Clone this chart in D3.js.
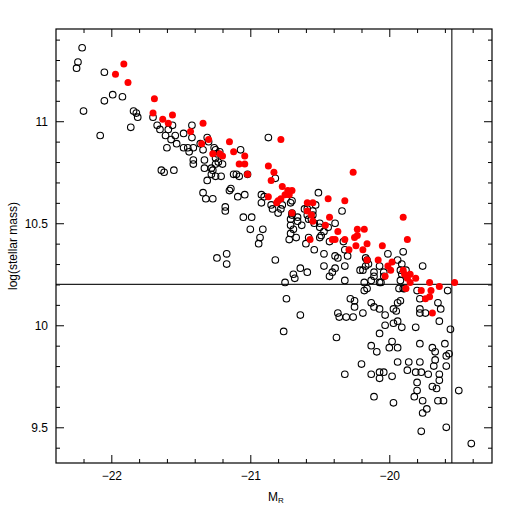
<!DOCTYPE html>
<html>
<head>
<meta charset="utf-8">
<script src="https://cdn.jsdelivr.net/npm/d3@7"></script>
<style>
  body { margin: 0; background: #fff; }
  svg text { font-family: "Liberation Sans", Arial, sans-serif; fill: #000; }
  .axis path.domain { display: none; }
  .axis line { stroke: #000; stroke-width: 1; }
  .axis text { font-size: 12px; }
</style>
</head>
<body>
<div id="chart"></div>
<script>
// open circles: [M_R, log(stellar mass)]
const openGalaxies = [
  [-22.21, 11.36], [-22.24, 11.29], [-22.25, 11.26], [-22.05, 11.24], [-21.99, 11.13],
  [-21.92, 11.12], [-22.05, 11.10], [-22.20, 11.05], [-21.84, 11.05], [-21.82, 11.04],
  [-21.81, 11.02], [-21.70, 11.02], [-21.67, 10.98], [-21.86, 10.97], [-22.08, 10.93],
  [-21.65, 10.96], [-21.56, 10.98], [-21.59, 10.96], [-21.61, 10.93], [-21.54, 10.93],
  [-21.57, 10.91], [-21.48, 10.94], [-21.42, 10.98], [-21.42, 10.92], [-21.53, 10.89],
  [-21.60, 10.87], [-21.48, 10.87], [-21.45, 10.87], [-21.41, 10.87], [-21.44, 10.85],
  [-21.36, 10.89], [-21.34, 10.86], [-21.41, 10.81], [-21.41, 10.79], [-21.33, 10.81],
  [-21.31, 10.92], [-21.30, 10.90], [-21.26, 10.87], [-21.25, 10.86], [-21.24, 10.84],
  [-21.22, 10.85], [-21.25, 10.82], [-21.25, 10.79], [-21.20, 10.79], [-21.23, 10.80],
  [-21.33, 10.77], [-21.28, 10.77], [-21.27, 10.76], [-21.28, 10.74], [-21.25, 10.73],
  [-21.21, 10.73], [-21.31, 10.71], [-21.12, 10.74], [-21.10, 10.74], [-21.08, 10.73],
  [-21.02, 10.74], [-20.87, 10.92], [-21.64, 10.76], [-21.62, 10.75], [-21.55, 10.76],
  [-21.34, 10.65], [-21.32, 10.62], [-21.27, 10.62], [-21.15, 10.66], [-21.14, 10.67],
  [-21.09, 10.63], [-21.04, 10.64], [-21.18, 10.58], [-21.18, 10.56], [-21.05, 10.53],
  [-20.99, 10.53], [-21.00, 10.47], [-20.91, 10.47], [-20.93, 10.43], [-20.94, 10.40],
  [-20.92, 10.64], [-20.90, 10.63], [-20.92, 10.60], [-20.85, 10.59], [-20.84, 10.57],
  [-20.80, 10.55], [-20.78, 10.57], [-20.77, 10.59], [-20.71, 10.45], [-20.67, 10.43],
  [-20.72, 10.42], [-20.82, 10.72], [-21.24, 10.33], [-21.17, 10.35], [-21.17, 10.30],
  [-20.82, 10.32], [-20.75, 10.21], [-20.74, 10.13], [-20.64, 10.05], [-20.69, 10.25],
  [-20.68, 10.23], [-20.64, 10.28], [-20.59, 10.26], [-20.47, 10.29], [-20.43, 10.24],
  [-20.54, 10.37], [-20.47, 10.35], [-20.60, 10.40], [-20.71, 10.49], [-20.69, 10.47],
  [-20.63, 10.49], [-20.66, 10.53], [-20.66, 10.51], [-20.59, 10.54], [-20.58, 10.52],
  [-20.58, 10.43], [-20.50, 10.43], [-20.49, 10.44], [-20.50, 10.50], [-20.54, 10.50],
  [-20.50, 10.48], [-20.47, 10.46], [-20.44, 10.48], [-20.70, 10.55], [-20.70, 10.54],
  [-20.70, 10.61], [-20.71, 10.60], [-20.53, 10.59], [-20.61, 10.57], [-20.59, 10.57],
  [-20.55, 10.56], [-20.55, 10.54], [-20.56, 10.52], [-20.71, 10.52], [-20.41, 10.26],
  [-20.32, 10.22], [-20.37, 10.06], [-20.36, 10.04], [-20.31, 10.04], [-20.26, 10.04],
  [-20.76, 9.97], [-20.38, 9.94], [-20.32, 9.76], [-20.28, 10.13], [-20.25, 10.12],
  [-20.25, 10.09], [-21.07, 10.86], [-20.51, 10.65], [-20.39, 10.50], [-20.34, 10.56],
  [-20.43, 10.41], [-20.39, 10.34], [-20.37, 10.33], [-20.30, 10.34], [-20.32, 10.37],
  [-20.39, 10.28], [-20.32, 10.29], [-20.33, 10.41], [-20.21, 10.27], [-20.19, 10.27],
  [-20.17, 10.33], [-20.16, 10.32], [-20.15, 10.30], [-20.17, 10.29], [-20.11, 10.26],
  [-20.11, 10.24], [-20.13, 10.22], [-20.18, 10.21], [-20.18, 10.17], [-20.16, 10.18],
  [-20.07, 10.29], [-20.07, 10.21], [-20.06, 10.21], [-20.04, 10.26], [-20.04, 10.24],
  [-20.01, 10.35], [-19.94, 10.32], [-19.91, 10.30], [-19.92, 10.27], [-19.91, 10.25],
  [-19.92, 10.22], [-19.90, 10.18], [-19.93, 10.18], [-19.90, 10.36], [-19.88, 10.27],
  [-19.89, 10.18], [-19.76, 10.29], [-19.80, 10.17], [-19.78, 10.13], [-19.58, 10.17],
  [-20.19, 10.06], [-20.13, 10.11], [-20.11, 10.09], [-20.07, 10.08], [-20.03, 10.05],
  [-19.97, 10.08], [-19.95, 10.07], [-19.94, 10.11], [-19.92, 10.12], [-19.78, 10.08],
  [-19.78, 10.06], [-19.74, 10.06], [-19.65, 10.11], [-19.63, 10.08], [-19.64, 10.02],
  [-20.07, 9.96], [-20.03, 10.00], [-19.97, 10.01], [-19.94, 10.02], [-19.91, 9.99],
  [-19.98, 9.92], [-20.00, 9.89], [-19.94, 9.89], [-19.81, 9.99], [-19.78, 9.91],
  [-19.69, 9.89], [-19.60, 9.91], [-19.56, 9.98], [-20.13, 9.90], [-20.09, 9.87],
  [-19.67, 9.87], [-19.57, 9.86], [-19.59, 9.85], [-19.67, 9.83], [-19.68, 9.80],
  [-19.59, 9.80], [-20.20, 9.81], [-20.13, 9.76], [-20.07, 9.77], [-20.04, 9.77],
  [-20.07, 9.74], [-19.98, 9.75], [-19.94, 9.82], [-19.86, 9.82], [-19.78, 9.82],
  [-19.87, 9.78], [-19.81, 9.77], [-19.77, 9.77], [-19.72, 9.76], [-19.64, 9.76],
  [-19.64, 9.73], [-19.80, 9.72], [-19.69, 9.70], [-19.66, 9.69], [-20.11, 9.65],
  [-19.97, 9.62], [-19.82, 9.65], [-19.80, 9.68], [-19.65, 9.63], [-19.61, 9.63],
  [-19.76, 9.63], [-19.73, 9.59], [-19.76, 9.57], [-19.59, 9.50], [-19.77, 9.48],
  [-19.50, 9.68], [-19.41, 9.42]
];

// filled red circles
const redGalaxies = [
  [-21.91, 11.28], [-21.97, 11.23], [-21.88, 11.19], [-21.69, 11.11], [-21.70, 11.04],
  [-21.63, 11.01], [-21.59, 10.99], [-21.56, 11.03], [-21.43, 10.95], [-21.34, 10.99],
  [-21.35, 10.89], [-21.30, 10.91], [-21.27, 10.84], [-21.22, 10.84], [-21.20, 10.83],
  [-21.15, 10.90], [-21.12, 10.85], [-21.04, 10.83], [-21.08, 10.79], [-21.04, 10.79],
  [-21.02, 10.74], [-20.87, 10.78], [-20.83, 10.75], [-20.85, 10.71], [-20.78, 10.91],
  [-20.77, 10.68], [-20.73, 10.66], [-20.70, 10.66], [-20.72, 10.64], [-20.75, 10.64],
  [-20.87, 10.63], [-20.80, 10.61], [-20.78, 10.62], [-20.81, 10.60], [-20.70, 10.55],
  [-20.26, 10.75], [-20.59, 10.60], [-20.55, 10.60], [-20.44, 10.62], [-20.32, 10.61],
  [-20.59, 10.56], [-20.56, 10.54], [-20.55, 10.51], [-20.43, 10.53], [-20.46, 10.49],
  [-20.37, 10.46], [-20.41, 10.42], [-20.39, 10.42], [-20.32, 10.42], [-20.23, 10.47],
  [-20.18, 10.47], [-20.25, 10.43], [-20.23, 10.44], [-20.24, 10.39], [-20.29, 10.37],
  [-20.16, 10.40], [-20.19, 10.37], [-20.16, 10.32], [-20.57, 10.42], [-19.90, 10.53],
  [-19.87, 10.42], [-20.05, 10.39], [-20.08, 10.32], [-20.01, 10.29], [-19.98, 10.31],
  [-19.99, 10.27], [-20.03, 10.24], [-19.90, 10.27], [-19.89, 10.25], [-19.87, 10.23],
  [-19.85, 10.21], [-19.85, 10.25], [-19.81, 10.23], [-19.88, 10.18], [-19.77, 10.17],
  [-19.70, 10.17], [-19.71, 10.21], [-19.74, 10.13], [-19.71, 10.14], [-19.69, 10.06],
  [-19.64, 10.19], [-19.53, 10.21]
];

const xDomain = [-22.398, -19.261];
const yDomain = [9.325, 11.452];
const xMajor = [-22, -21, -20];
const xMinor = [-22.2, -21.8, -21.6, -21.4, -21.2, -20.8, -20.6, -20.4, -20.2, -19.8, -19.6, -19.4];
const yMajor = [9.5, 10, 10.5, 11];
const yMinor = [9.4, 9.6, 9.7, 9.8, 9.9, 10.1, 10.2, 10.3, 10.4, 10.6, 10.7, 10.8, 10.9, 11.1, 11.2, 11.3, 11.4];
const massCut = 10.2;
const magCut = -19.55;

const width = 519;
const height = 519;
const margin = { top: 29, right: 27, bottom: 56, left: 56 };

function drawChart() {
  const area = {
    left: margin.left,
    right: width - margin.right,
    top: margin.top,
    bottom: height - margin.bottom,
  };

  const xScale = d3.scaleLinear().domain(xDomain).range([area.left, area.right]);
  const yScale = d3.scaleLinear().domain(yDomain).range([area.bottom, area.top]);

  const svg = d3.select('#chart')
    .append('svg')
    .attr('width', width)
    .attr('height', height);

  // ticks point inward on all four sides
  const addAxis = (axis, transform, size, values, labels) => {
    svg.append('g')
      .attr('class', 'axis')
      .attr('transform', transform)
      .call(axis.tickValues(values).tickSize(-size).tickPadding(8)
        .tickFormat(labels ? d3.format('') : ''));
  };

  addAxis(d3.axisBottom(xScale), `translate(0,${area.bottom})`, 8, xMajor, true);
  addAxis(d3.axisBottom(xScale), `translate(0,${area.bottom})`, 4, xMinor, false);
  addAxis(d3.axisTop(xScale), `translate(0,${area.top})`, 8, xMajor, false);
  addAxis(d3.axisTop(xScale), `translate(0,${area.top})`, 4, xMinor, false);
  addAxis(d3.axisLeft(yScale), `translate(${area.left},0)`, 8, yMajor, true);
  addAxis(d3.axisLeft(yScale), `translate(${area.left},0)`, 4, yMinor, false);
  addAxis(d3.axisRight(yScale), `translate(${area.right},0)`, 8, yMajor, false);
  addAxis(d3.axisRight(yScale), `translate(${area.right},0)`, 4, yMinor, false);

  // cut lines
  svg.append('line')
    .attr('x1', area.left).attr('x2', area.right)
    .attr('y1', yScale(massCut)).attr('y2', yScale(massCut))
    .attr('stroke', '#222').attr('stroke-width', 1.2);

  svg.append('line')
    .attr('x1', xScale(magCut)).attr('x2', xScale(magCut))
    .attr('y1', area.top).attr('y2', area.bottom)
    .attr('stroke', '#222').attr('stroke-width', 1.2);

  // open black circles
  svg.append('g')
    .selectAll('circle')
    .data(openGalaxies)
    .join('circle')
    .attr('cx', (d) => xScale(d[0]))
    .attr('cy', (d) => yScale(d[1]))
    .attr('r', 3.3)
    .attr('fill', 'none')
    .attr('stroke', '#000')
    .attr('stroke-width', 1.1);

  // red filled circles
  svg.append('g')
    .selectAll('circle')
    .data(redGalaxies)
    .join('circle')
    .attr('cx', (d) => xScale(d[0]))
    .attr('cy', (d) => yScale(d[1]))
    .attr('r', 3.5)
    .attr('fill', '#ff0000');

  // frame
  svg.append('rect')
    .attr('x', area.left).attr('y', area.top)
    .attr('width', area.right - area.left)
    .attr('height', area.bottom - area.top)
    .attr('fill', 'none')
    .attr('stroke', '#000')
    .attr('stroke-width', 1.2);

  // axis titles
  const xLabel = svg.append('text')
    .attr('x', (area.left + area.right) / 2 + 2)
    .attr('y', 501)
    .attr('text-anchor', 'middle')
    .style('font-size', '12px');
  xLabel.append('tspan').text('M');
  xLabel.append('tspan').attr('dy', 2).style('font-size', '8px').text('R');

  svg.append('text')
    .attr('transform', `translate(17,${(area.top + area.bottom) / 2}) rotate(-90)`)
    .attr('text-anchor', 'middle')
    .style('font-size', '12px')
    .text('log(stellar mass)');
}

document.addEventListener('DOMContentLoaded', drawChart);
</script>
</body>
</html>
